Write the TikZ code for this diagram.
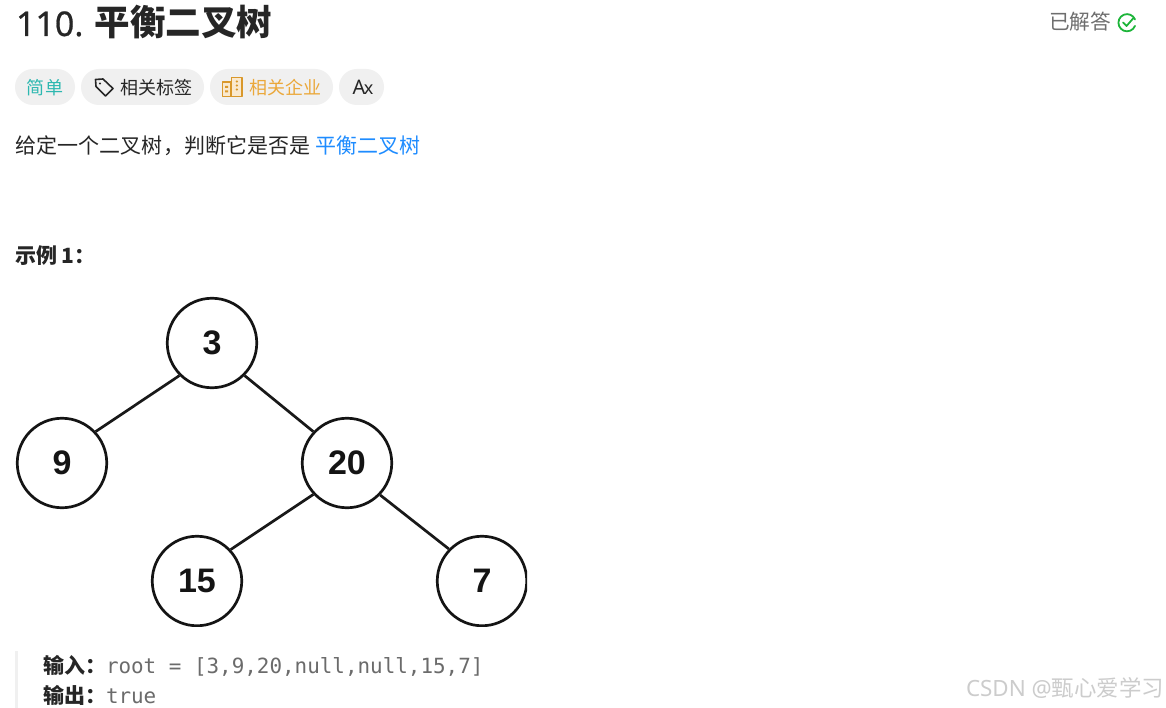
\documentclass[tikz,border=0pt]{standalone}
\usepackage{fontspec}
\setmainfont{Noto Sans CJK SC}
\newfontfamily\treefont{Liberation Sans}
\newfontfamily\codefont{DejaVu Sans Mono}
\newfontfamily\latinfont{Noto Sans}
\definecolor{ink}{HTML}{262626}
\definecolor{pill}{HTML}{F0F0F0}
\definecolor{teal}{HTML}{2DB8B0}
\definecolor{amber}{HTML}{EBA83A}
\definecolor{amberdk}{HTML}{D9982B}
\definecolor{linkblue}{HTML}{1E8CFF}
\definecolor{grayt}{HTML}{6E6E6E}
\definecolor{okgreen}{HTML}{1DB53A}
\definecolor{codegray}{HTML}{6B6B6B}
\newcommand{\px}[1]{\fontsize{#1}{#1}\selectfont}
\tikzset{
  txt/.style={inner sep=0pt,outer sep=0pt,anchor=base west,text=ink},
  pillbox/.style={fill=pill,rounded corners=18pt},
  treenode/.style={circle,draw=black!92,line width=2.7pt,fill=white,minimum size=89.5pt,inner sep=0pt,font=\treefont\bfseries\px{34},text=black!92},
  treeedge/.style={draw=black!90,line width=2.7pt},
  icon/.style={line width=1.6pt,line join=round,line cap=round}
}
\begin{document}
\begin{tikzpicture}[x=1pt,y=-1pt]
\useasboundingbox (0,0) rectangle (1166,708);
\fill[white] (0,0) rectangle (1166,708);
% title
\node[txt] (title) at (16,36) {\px{34}\fontspec{Noto Sans}[FakeBold=0.6] 110.};
\node[txt] (titlecn) at (94.5,36) {\px{35.5}\rmfamily\bfseries 平衡二叉树};
\node[txt,text=grayt] (solved) at (1049,30) {\px{20.7}已解答};
\draw[okgreen,line width=1.8pt,line cap=round] (1135,19.5) arc[start angle=-22,end angle=-338,radius=8.6] ;
\draw[okgreen,line width=1.8pt,line cap=round,line join=round] (1123,22.5) -- (1126.5,26) -- (1133.5,18);
% pills
\fill[pillbox] (15,69) rectangle (75,105);
\fill[pillbox] (81,69) rectangle (204,105);
\fill[pillbox] (210,69) rectangle (333,105);
\fill[pillbox] (339,69) rectangle (384,105);
\node[txt,text=teal] (easy) at (27,94.5) {\px{18}简单};
\node[txt,text=ink] (tags) at (120,94.5) {\px{18}相关标签};
\node[txt,text=amber] (comp) at (249,94.5) {\px{18}相关企业};
\node[txt,text=ink] (trans) at (352.5,94.5) {\px{20}\latinfont A\px{18}\kern-1.5pt x};
% tag icon
\draw[ink,icon] (95.5,79.5) -- (103,79) -- (113,88.5) -- (105.5,96) -- (96,86.5) -- cycle;
\fill[ink] (100,83.5) circle (1.2pt);
% company icon
\draw[amberdk,icon,line width=1.2pt,fill=amber!25] (222.5,82) rectangle (231,96.5);
\draw[amberdk,icon,line width=1.5pt,fill=amber!25] (231.5,77.5) rectangle (242,96.5);
\fill[amberdk] (236.8,81.5) circle (1.2pt) (236.8,85.5) circle (1.2pt) (236.8,89.5) circle (1.2pt);
\fill[amberdk] (225,86) rectangle +(3,2) (225,90.5) rectangle +(3,2);
% description
\node[txt] (desc) at (16,153.5) {\px{21}给定一个二叉树，判断它是否是};
\node[txt,text=linkblue] (link) at (315.5,153.5) {\px{21}平衡二叉树};
% example
\node[txt] (ex) at (15,264) {\px{21}\bfseries 示例 1：};
% tree
\begin{scope}
\clip (0,290) rectangle (527,626.5);
\node[treenode] (n3) at (212,343) {3};
\node[treenode] (n9) at (62,463) {9};
\node[treenode] (n20) at (347,463) {20};
\node[treenode] (n15) at (197,581) {15};
\node[treenode] (n7) at (482,581) {7};
\draw[treeedge] (n3.225) -- (n9.43);
\draw[treeedge] (n3.-45) -- (n20.137);
\draw[treeedge] (n20.223.5) -- (n15.43);
\draw[treeedge] (n20.-44) -- (n7.136);
\end{scope}
% quote block
\fill[pill] (15,651) rectangle (18,708);
\node[txt] (inlab) at (43,673) {\px{21}\bfseries 输入：};
\node[txt,text=codegray] (inval) at (106,673) {\px{20.9}\codefont root = [3,9,20,null,null,15,7]};
\node[txt] (outlab) at (43,703) {\px{21}\bfseries 输出：};
\node[txt,text=codegray] (outval) at (106,703) {\px{20.9}\codefont true};
% watermark
\node[txt,text=black!20] (mark) at (966,696) {\px{22.4}\latinfont CSDN @\rmfamily 甄心爱学习};
\end{tikzpicture}
\end{document}
